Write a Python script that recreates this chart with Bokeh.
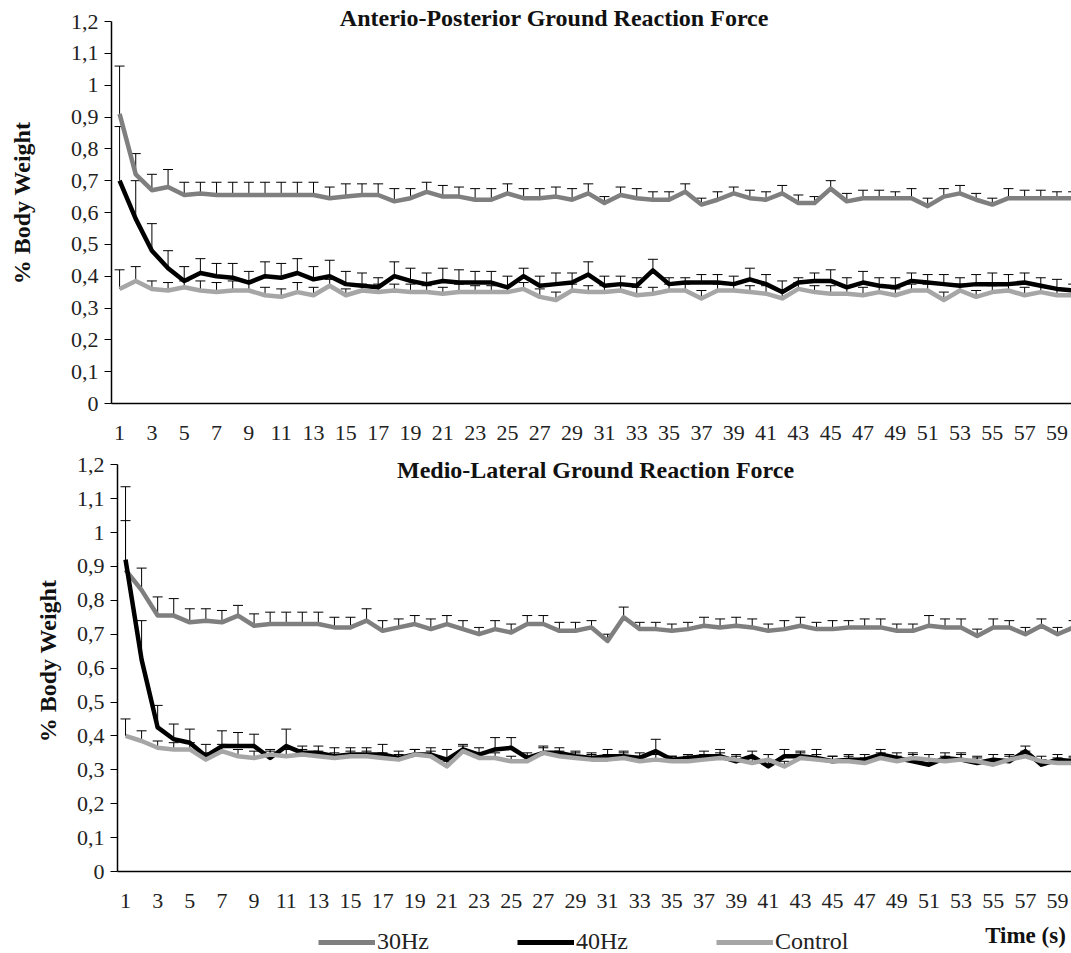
from bokeh.plotting import figure
from bokeh.models import (ColumnDataSource, Whisker, TeeHead, FixedTicker, Range1d,
                          CustomJSTickFormatter, Label, Legend, LegendItem)
from bokeh.embed import file_html
from bokeh.resources import INLINE

seconds = list(range(1, 61))
x_ticks = list(range(1, 60, 2))
y_ticks = [0, 0.1, 0.2, 0.3, 0.4, 0.5, 0.6, 0.7, 0.8, 0.9, 1.0, 1.1, 1.2]

series_names = ["30Hz", "40Hz", "Control"]
series_colors = ["#7f7f7f", "#000000", "#a6a6a6"]

# Anterio-Posterior
ap_30 = [0.91, 0.72, 0.67, 0.68, 0.655, 0.66, 0.655, 0.655, 0.655, 0.655, 0.655, 0.655, 0.655, 0.645, 0.65,
         0.655, 0.655, 0.635, 0.645, 0.665, 0.65, 0.65, 0.64, 0.64, 0.66, 0.645, 0.645, 0.65, 0.64, 0.66,
         0.63, 0.655, 0.645, 0.64, 0.64, 0.665, 0.625, 0.64, 0.66, 0.645, 0.64, 0.66, 0.63, 0.63, 0.675,
         0.635, 0.645, 0.645, 0.645, 0.645, 0.62, 0.65, 0.66, 0.64, 0.625, 0.645, 0.645, 0.645, 0.645, 0.645]
ap_30_err = [0.15, 0.065, 0.05, 0.055, 0.04, 0.035, 0.04, 0.04, 0.04, 0.04, 0.04, 0.04, 0.04, 0.035, 0.04,
             0.035, 0.035, 0.04, 0.03, 0.03, 0.035, 0.03, 0.035, 0.035, 0.03, 0.03, 0.03, 0.03, 0.035, 0.03,
             0.02, 0.025, 0.03, 0.025, 0.025, 0.025, 0.02, 0.025, 0.02, 0.025, 0.025, 0.025, 0.025, 0.02, 0.025,
             0.025, 0.025, 0.025, 0.02, 0.03, 0.025, 0.025, 0.025, 0.02, 0.02, 0.03, 0.025, 0.025, 0.02, 0.02]
ap_40 = [0.70, 0.58, 0.48, 0.425, 0.385, 0.41, 0.40, 0.395, 0.38, 0.40, 0.395, 0.41, 0.39, 0.40, 0.375,
         0.37, 0.365, 0.40, 0.385, 0.375, 0.385, 0.38, 0.38, 0.38, 0.365, 0.40, 0.37, 0.375, 0.38, 0.405,
         0.37, 0.375, 0.37, 0.418, 0.375, 0.38, 0.38, 0.38, 0.375, 0.39, 0.375, 0.35, 0.38, 0.385, 0.385,
         0.365, 0.38, 0.37, 0.365, 0.385, 0.38, 0.375, 0.37, 0.375, 0.375, 0.375, 0.38, 0.37, 0.36, 0.355]
ap_40_err = [0.17, 0.12, 0.085, 0.055, 0.045, 0.045, 0.04, 0.045, 0.035, 0.045, 0.045, 0.045, 0.04, 0.05, 0.04,
             0.04, 0.03, 0.045, 0.04, 0.035, 0.04, 0.04, 0.035, 0.035, 0.035, 0.025, 0.03, 0.035, 0.03, 0.04,
             0.03, 0.025, 0.025, 0.035, 0.02, 0.015, 0.025, 0.025, 0.025, 0.035, 0.03, 0.035, 0.015, 0.025, 0.035,
             0.03, 0.035, 0.025, 0.03, 0.025, 0.025, 0.03, 0.025, 0.03, 0.035, 0.03, 0.03, 0.025, 0.03, 0.02]
ap_ctl = [0.36, 0.385, 0.36, 0.355, 0.365, 0.355, 0.35, 0.355, 0.355, 0.34, 0.335, 0.35, 0.34, 0.37, 0.34,
          0.355, 0.35, 0.355, 0.35, 0.35, 0.345, 0.35, 0.35, 0.35, 0.35, 0.36, 0.335, 0.325, 0.355, 0.35,
          0.35, 0.355, 0.34, 0.345, 0.355, 0.355, 0.33, 0.355, 0.355, 0.35, 0.345, 0.33, 0.36, 0.35, 0.345,
          0.345, 0.34, 0.35, 0.34, 0.355, 0.355, 0.325, 0.355, 0.335, 0.35, 0.355, 0.34, 0.35, 0.34, 0.34]
ap_ctl_err = [0.06, 0.045, 0.025, 0.025, 0.02, 0.03, 0.03, 0.03, 0.025, 0.025, 0.025, 0.03, 0.025, 0.02, 0.02,
              0.02, 0.025, 0.02, 0.025, 0.02, 0.02, 0.025, 0.02, 0.02, 0.02, 0.02, 0.025, 0.025, 0.02, 0.02,
              0.02, 0.02, 0.025, 0.02, 0.02, 0.02, 0.025, 0.02, 0.02, 0.02, 0.025, 0.025, 0.02, 0.02, 0.025,
              0.02, 0.025, 0.02, 0.02, 0.02, 0.02, 0.025, 0.02, 0.02, 0.02, 0.02, 0.025, 0.02, 0.02, 0.02]

# Medio-Lateral
ml_30 = [0.89, 0.83, 0.755, 0.755, 0.735, 0.74, 0.735, 0.755, 0.725, 0.73, 0.73, 0.73, 0.73, 0.72, 0.72,
         0.74, 0.71, 0.72, 0.73, 0.715, 0.73, 0.715, 0.70, 0.715, 0.705, 0.73, 0.73, 0.71, 0.71, 0.72,
         0.68, 0.75, 0.715, 0.715, 0.71, 0.715, 0.725, 0.72, 0.725, 0.72, 0.71, 0.715, 0.725, 0.715, 0.715,
         0.72, 0.72, 0.72, 0.71, 0.71, 0.725, 0.72, 0.72, 0.695, 0.72, 0.72, 0.70, 0.725, 0.70, 0.72]
ml_30_err = [0.145, 0.065, 0.055, 0.05, 0.04, 0.035, 0.035, 0.03, 0.035, 0.035, 0.035, 0.035, 0.035, 0.03, 0.03,
             0.035, 0.03, 0.025, 0.025, 0.03, 0.025, 0.025, 0.02, 0.025, 0.025, 0.025, 0.025, 0.025, 0.025, 0.02,
             0.02, 0.03, 0.02, 0.02, 0.02, 0.02, 0.025, 0.025, 0.025, 0.025, 0.02, 0.025, 0.025, 0.02, 0.025,
             0.02, 0.025, 0.025, 0.02, 0.02, 0.03, 0.025, 0.025, 0.02, 0.025, 0.02, 0.02, 0.02, 0.02, 0.02]
ml_40 = [0.92, 0.625, 0.425, 0.39, 0.38, 0.34, 0.37, 0.37, 0.37, 0.335, 0.37, 0.35, 0.35, 0.34, 0.345,
         0.345, 0.345, 0.335, 0.345, 0.345, 0.33, 0.36, 0.345, 0.36, 0.365, 0.335, 0.35, 0.35, 0.34, 0.335,
         0.34, 0.34, 0.335, 0.355, 0.33, 0.335, 0.34, 0.34, 0.325, 0.34, 0.31, 0.34, 0.34, 0.335, 0.325,
         0.33, 0.33, 0.345, 0.335, 0.325, 0.315, 0.335, 0.33, 0.32, 0.33, 0.325, 0.355, 0.315, 0.33, 0.325]
ml_40_err = [0.215, 0.115, 0.065, 0.045, 0.04, 0.035, 0.045, 0.04, 0.035, 0.02, 0.05, 0.02, 0.02, 0.025, 0.02,
             0.02, 0.03, 0.02, 0.015, 0.02, 0.03, 0.015, 0.02, 0.035, 0.03, 0.015, 0.02, 0.015, 0.015, 0.015,
             0.02, 0.015, 0.015, 0.035, 0.01, 0.01, 0.015, 0.02, 0.015, 0.015, 0.02, 0.02, 0.015, 0.025, 0.015,
             0.015, 0.015, 0.015, 0.015, 0.02, 0.015, 0.015, 0.02, 0.015, 0.015, 0.015, 0.015, 0.015, 0.015, 0.015]
ml_ctl = [0.40, 0.385, 0.365, 0.36, 0.36, 0.33, 0.355, 0.34, 0.335, 0.345, 0.34, 0.345, 0.34, 0.335, 0.34,
          0.34, 0.335, 0.33, 0.345, 0.34, 0.31, 0.355, 0.335, 0.335, 0.325, 0.325, 0.35, 0.34, 0.335, 0.33,
          0.33, 0.335, 0.325, 0.33, 0.325, 0.325, 0.33, 0.335, 0.33, 0.32, 0.33, 0.31, 0.335, 0.33, 0.325,
          0.325, 0.32, 0.335, 0.325, 0.335, 0.33, 0.325, 0.33, 0.325, 0.315, 0.33, 0.34, 0.325, 0.32, 0.32]
ml_ctl_err = [0.05, 0.03, 0.02, 0.02, 0.02, 0.02, 0.02, 0.02, 0.02, 0.015, 0.02, 0.015, 0.015, 0.015, 0.015,
              0.015, 0.015, 0.015, 0.015, 0.015, 0.015, 0.015, 0.015, 0.015, 0.015, 0.015, 0.015, 0.015, 0.015, 0.015,
              0.015, 0.015, 0.015, 0.015, 0.015, 0.015, 0.015, 0.015, 0.015, 0.015, 0.015, 0.015, 0.015, 0.015, 0.015,
              0.015, 0.015, 0.015, 0.015, 0.015, 0.015, 0.015, 0.015, 0.015, 0.015, 0.015, 0.015, 0.015, 0.015, 0.015]

FONT = "Liberation Serif"
W = 1071

fmt = CustomJSTickFormatter(code="""
var s = tick.toFixed(1);
if (s.endsWith('.0')) { s = s.slice(0, -2); }
return s.replace('.', ',');
""")


def make_panel(title, values, errs, height, border_left, border_top, border_bottom,
               x_end, y_top, title_x, title_y, label_standoff):
    p = figure(width=W, height=height, output_backend="svg", toolbar_location=None,
               x_range=Range1d(0.5, x_end), y_range=Range1d(0, y_top),
               min_border_left=border_left, min_border_right=0,
               min_border_top=border_top, min_border_bottom=border_bottom)
    p.outline_line_color = None
    p.xgrid.visible = False
    p.ygrid.visible = False

    renderers = []
    for name, color, vals, err in zip(series_names, series_colors, values, errs):
        upper = [v + e for v, e in zip(vals, err)]
        src = ColumnDataSource(dict(x=seconds, y=vals, upper=upper))
        r = p.line("x", "y", source=src, line_color=color, line_width=4.5, line_join="round")
        renderers.append(r)
        w = Whisker(source=src, base="x", upper="upper", lower="y", dimension="height",
                    line_color="black", line_width=1,
                    upper_head=TeeHead(size=10, line_color="black", line_width=1),
                    lower_head=None)
        p.add_layout(w)

    p.xaxis.ticker = FixedTicker(ticks=x_ticks)
    p.yaxis.ticker = FixedTicker(ticks=y_ticks)
    p.yaxis.formatter = fmt
    p.yaxis.bounds = (0, 1.2)
    for ax in (p.xaxis, p.yaxis):
        ax.axis_line_color = "black"
        ax.axis_line_width = 1.5
        ax.major_label_text_font = FONT
        ax.major_label_text_font_size = "22px"
        ax.major_label_text_color = "#222222"
        ax.minor_tick_line_color = None
    p.xaxis.major_tick_line_color = None
    p.xaxis.major_label_standoff = 16
    p.yaxis.major_tick_in = 0
    p.yaxis.major_tick_out = 7
    p.yaxis.major_tick_line_color = "black"
    p.yaxis.major_label_standoff = 6
    p.yaxis.axis_label = "% Body Weight"
    p.yaxis.axis_label_text_font = FONT
    p.yaxis.axis_label_text_font_style = "bold"
    p.yaxis.axis_label_text_font_size = "24px"
    p.yaxis.axis_label_text_color = "#111111"
    p.yaxis.axis_label_standoff = label_standoff

    p.add_layout(Label(x=title_x, y=title_y, text=title, text_align="center",
                       text_baseline="middle", text_font=FONT, text_font_style="bold",
                       text_font_size="24px", text_color="#111111"))
    return p, renderers


top, _ = make_panel("Anterio-Posterior Ground Reaction Force",
                    [ap_30, ap_40, ap_ctl], [ap_30_err, ap_40_err, ap_ctl_err],
                    height=447, border_left=111, border_top=2, border_bottom=44,
                    x_end=59.9, y_top=1.2597, title_x=27.9, title_y=1.2096,
                    label_standoff=33)
bottom, _ = make_panel("Medio-Lateral Ground Reaction Force",
                       [ml_30, ml_40, ml_ctl], [ml_30_err, ml_40_err, ml_ctl_err],
                       height=468, border_left=117, border_top=3, border_bottom=44,
                       x_end=59.87, y_top=1.2419, title_x=30.25, title_y=1.183,
                       label_standoff=13)

# legend strip with the time label; key lines reuse the series data but lie
# below the strip's visible y range, so only their legend glyphs show
key = figure(width=W, height=38, output_backend="svg", toolbar_location=None,
             x_range=Range1d(0, W), y_range=Range1d(100, 138),
             x_axis_location=None, y_axis_location=None,
             min_border_left=0, min_border_right=0, min_border_top=0, min_border_bottom=0)
key.outline_line_color = None
key.xgrid.visible = False
key.ygrid.visible = False
key_renderers = [key.line(x=seconds, y=vals, line_color=c, line_width=5)
                 for c, vals in zip(series_colors, [ml_30, ml_40, ml_ctl])]
legend = Legend(items=[LegendItem(label=n, renderers=[r]) for n, r in zip(series_names, key_renderers)],
                orientation="horizontal", location=(318, -2),
                label_text_font=FONT, label_text_font_size="24px", label_text_color="#222222",
                glyph_width=57, glyph_height=20, label_standoff=2, spacing=88,
                padding=0, margin=0, border_line_color=None, background_fill_alpha=0)
key.add_layout(legend)
key.add_layout(Label(x=1025, y=118, text="Time (s)", text_align="center",
                     text_baseline="middle", text_font=FONT, text_font_style="bold",
                     text_font_size="23px", text_color="#111111"))

open("out.html", "w").write(file_html([top, bottom, key], INLINE))
